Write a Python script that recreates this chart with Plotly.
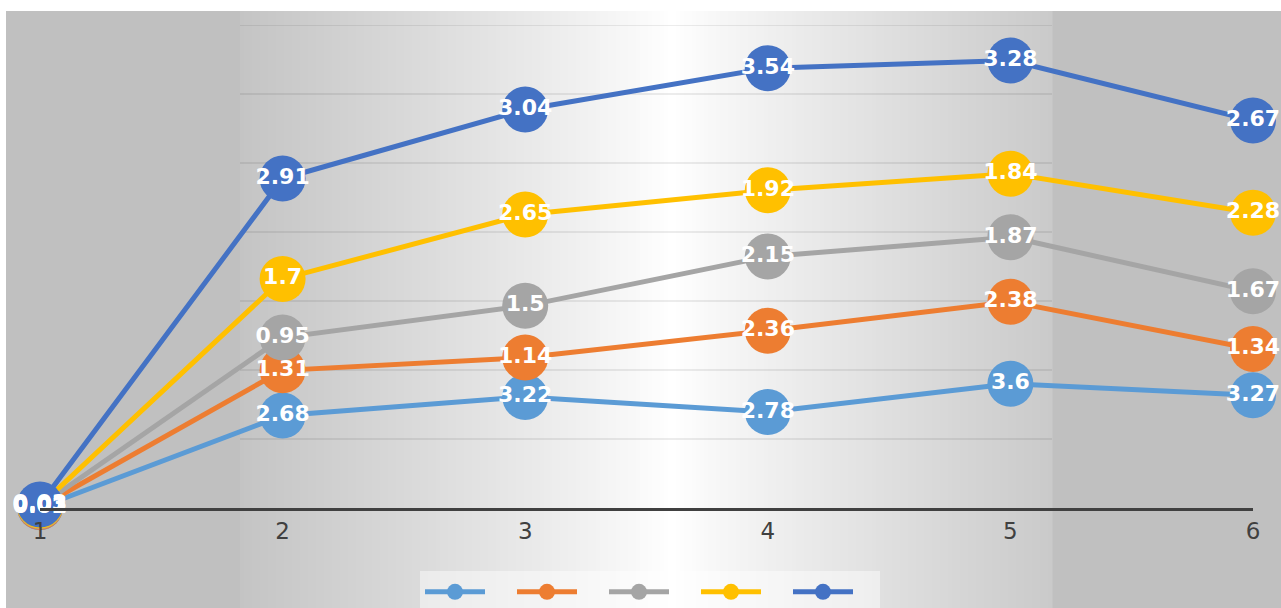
import numpy as np
import plotly.graph_objects as go

categories = [1, 2, 3, 4, 5, 6]
s1 = [0.02, 2.68, 3.22, 2.78, 3.60, 3.27]
s2 = [0.01, 1.31, 1.14, 2.36, 2.38, 1.34]
s3 = [0.03, 0.95, 1.50, 2.15, 1.87, 1.67]
s4 = [0.01, 1.70, 2.65, 1.92, 1.84, 2.28]
s5 = [0.03, 2.91, 3.04, 3.54, 3.28, 2.67]
series = [s1, s2, s3, s4, s5]
colors = ["#5B9BD5", "#ED7D31", "#A5A5A5", "#FFC000", "#4472C4"]

W, H = 1281, 608
L, R, T, B = 40, 28, 25, 100
pw, ph = W - L - R, H - T - B


def px2x(px):
    return (px - L) / pw


def py2y(py):
    return (H - B - py) / ph


cum = np.cumsum(np.array(series, dtype=float), axis=0)

fig = go.Figure()
for i, (vals, col) in enumerate(zip(series, colors)):
    fig.add_trace(go.Scatter(
        x=categories, y=cum[i], mode="lines+markers", name=" ",
        line=dict(color=col, width=5),
        marker=dict(color=col, size=46),
        cliponaxis=False, hoverinfo="skip",
    ))
for i, vals in enumerate(series):
    fig.add_trace(go.Scatter(
        x=categories, y=cum[i], mode="text", showlegend=False,
        text=[f"{v:g}" for v in vals], textposition="middle center",
        textfont=dict(family="DejaVu Sans", size=22, color="white", weight="bold"),
        cliponaxis=False, hoverinfo="skip",
    ))

shapes = []
# chart area background
shapes.append(dict(type="rect", xref="paper", yref="paper", layer="below",
                   x0=px2x(6), x1=px2x(W + 5), y0=py2y(11), y1=py2y(H + 5),
                   fillcolor="#C0C0C0", line=dict(width=0)))
# gradient stripes
cx = 672
step = 4
for x in range(240, 1052, step):
    xc = x + step / 2
    if xc < cx:
        t = (cx - xc) / (cx - 240)
        edge = 196
    else:
        t = (xc - cx) / (1052 - cx)
        edge = 202
    t = min(max(t, 0), 1)
    c = int(round(255 - (255 - edge) * t ** 0.9))
    shapes.append(dict(type="rect", xref="paper", yref="paper", layer="below",
                       x0=px2x(x), x1=px2x(x + step + 0.5), y0=py2y(11), y1=py2y(H + 5),
                       fillcolor=f"rgb({c},{c},{c})", line=dict(width=0)))
# gridlines (only visible over the bright band)
for gy in range(2, 15, 2):
    shapes.append(dict(type="line", xref="paper", yref="y", layer="below",
                       x0=px2x(240), x1=px2x(1052), y0=gy, y1=gy,
                       line=dict(color="rgba(0,0,0,0.10)", width=1.5)))

fig.update_layout(
    width=W, height=H,
    margin=dict(l=L, r=R, t=T, b=B, autoexpand=False),
    paper_bgcolor="white", plot_bgcolor="rgba(0,0,0,0)",
    shapes=shapes,
    showlegend=True,
    legend=dict(orientation="h", x=px2x(650), xanchor="center", y=py2y(571), yanchor="top",
                bgcolor="rgba(255,255,255,0.45)", itemwidth=60, entrywidth=17,
                font=dict(family="DejaVu Sans", size=22), borderwidth=0,
                tracegroupgap=0),
    xaxis=dict(range=[1, 6], showgrid=False, zeroline=False, showline=True,
               linecolor="#404040", linewidth=3, tickmode="array",
               tickvals=categories, ticktext=[str(c) for c in categories],
               tickfont=dict(family="DejaVu Sans", size=23, color="#404040"),
               ticks="", ticklabelstandoff=0),
    yaxis=dict(range=[0, 14], showgrid=False, zeroline=False, showticklabels=False,
               showline=False),
)

fig.write_html("out.html")
